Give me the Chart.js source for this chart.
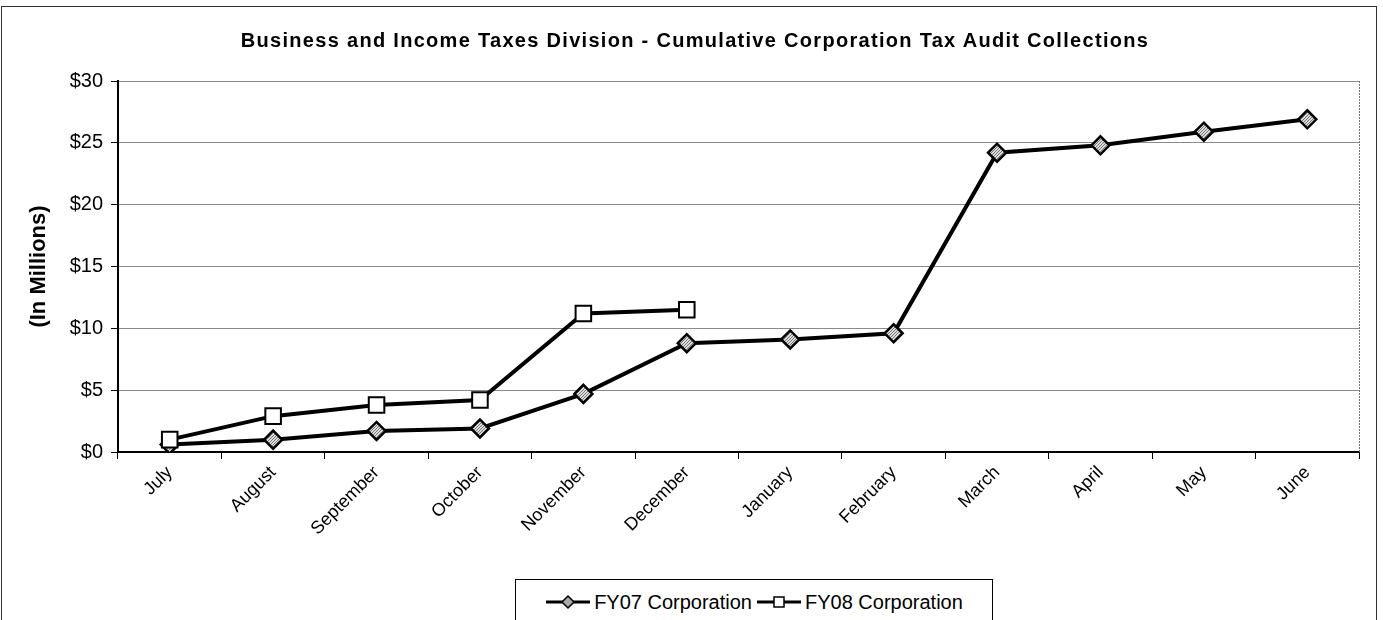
<!DOCTYPE html>
<html>
<head>
<meta charset="utf-8">
<script src="https://cdn.jsdelivr.net/npm/chart.js@4.4.1/dist/chart.umd.min.js"></script>
<style>
  html, body { margin: 0; padding: 0; background: #fff; }
  #wrap { position: relative; width: 1383px; height: 620px; overflow: hidden; font-family: Arial, "Liberation Sans", sans-serif; }
  #frame { position: absolute; left: 1px; top: 6px; width: 1374px; height: 630px; border: 1px solid #333; }
  #chart-box { position: absolute; left: 0; top: 0; width: 1383px; height: 560px; }
  #title { position: absolute; left: 0; top: 28px; width: 1390px; text-align: center; font-size: 20px; line-height: 24px;
           font-weight: bold; letter-spacing: 1.3px; color: #000; white-space: nowrap; }
  #legend { position: absolute; left: 515px; top: 579px; width: 476px; height: 44px; border: 1px solid #000; background: #fff;
            display: flex; align-items: center; justify-content: center; gap: 4px; font-size: 20px; color: #000; }
  .leg-item { display: flex; align-items: center; gap: 3px; }
</style>
</head>
<body>
<div id="wrap">
  <div id="frame"></div>
  <div id="chart-box"><canvas id="taxChart" width="1383" height="560"></canvas></div>
  <div id="title">Business and Income Taxes Division - Cumulative Corporation Tax Audit Collections</div>
  <div id="legend">
    <span class="leg-item">
      <svg width="46" height="16"><line x1="1" y1="8" x2="45" y2="8" stroke="#000" stroke-width="3"/><polygon points="23,2 29,8 23,14 17,8" fill="#aaa" stroke="#000" stroke-width="1.5"/></svg>
      <span>FY07 Corporation</span>
    </span>
    <span class="leg-item">
      <svg width="46" height="16"><line x1="1" y1="8" x2="45" y2="8" stroke="#000" stroke-width="3"/><rect x="18" y="3" width="10" height="10" fill="#fff" stroke="#000" stroke-width="1.5"/></svg>
      <span>FY08 Corporation</span>
    </span>
  </div>
</div>
<script>
// Data
const months = ['July', 'August', 'September', 'October', 'November', 'December',
                'January', 'February', 'March', 'April', 'May', 'June'];
const fy07Corporation = [0.6, 1.0, 1.7, 1.9, 4.7, 8.8, 9.1, 9.6, 24.2, 24.8, 25.9, 26.9];
const fy08Corporation = [1.0, 2.9, 3.8, 4.2, 11.2, 11.5];
const yTicks = [0, 5, 10, 15, 20, 25, 30];

const FONT = 'Arial, "Liberation Sans", sans-serif';

// grey speckle fill for the diamonds
function makeSpeckle() {
    const c = document.createElement('canvas');
    c.width = 3; c.height = 3;
    const g = c.getContext('2d');
    g.fillStyle = '#dcdcdc';
    g.fillRect(0, 0, 3, 3);
    g.fillStyle = '#777';
    g.fillRect(0, 0, 1, 1);
    g.fillRect(2, 1, 1, 1);
    g.fillRect(1, 2, 1, 1);
    return g.createPattern(c, 'repeat');
}

// dotted right edge of the plot area
const plotEdge = {
    id: 'plotEdge',
    beforeDatasetsDraw(chart) {
        const { ctx, chartArea } = chart;
        ctx.save();
        ctx.strokeStyle = '#777';
        ctx.lineWidth = 1;
        ctx.setLineDash([2, 1]);
        ctx.beginPath();
        ctx.moveTo(chartArea.right + 0.5, chartArea.top);
        ctx.lineTo(chartArea.right + 0.5, chartArea.bottom);
        ctx.stroke();
        ctx.restore();
    }
};

function initChart() {
    const ctx = document.getElementById('taxChart').getContext('2d');
    const speckle = makeSpeckle();
    new Chart(ctx, {
        type: 'line',
        data: {
            labels: months,
            datasets: [
                { label: 'FY07 Corporation', data: fy07Corporation, order: 1, borderColor: '#000', borderWidth: 4,
                  pointStyle: 'rectRot', pointRadius: 9, pointBorderWidth: 2.5, pointBackgroundColor: speckle,
                  pointBorderColor: '#000', tension: 0, fill: false },
                { label: 'FY08 Corporation', data: fy08Corporation, order: 0, borderColor: '#000', borderWidth: 4,
                  pointStyle: 'rect', pointRadius: 11, pointBorderWidth: 2, pointBackgroundColor: '#fff',
                  pointBorderColor: '#000', tension: 0, fill: false }
            ]
        },
        options: {
            responsive: false,
            animation: false,
            layout: { padding: { left: 0, right: 24, top: 81, bottom: 0 } },
            plugins: {
                legend: { display: false },
                tooltip: { enabled: false },
                title: { display: false }
            },
            scales: {
                x: {
                    offset: true,
                    grid: { drawOnChartArea: false, drawTicks: true, tickLength: 7, color: '#000', offset: true },
                    border: { color: '#000', width: 2 },
                    ticks: { color: '#000', font: { family: FONT, size: 18 }, minRotation: 45, maxRotation: 45, padding: 3 },
                    afterFit(scale) { scale.height = 108; }
                },
                y: {
                    min: 0, max: 30,
                    afterBuildTicks(scale) { scale.ticks = yTicks.map(v => ({ value: v })); },
                    grid: { color: '#8a8a8a', lineWidth: 1, tickColor: '#000', tickLength: 7 },
                    border: { color: '#000', width: 2 },
                    ticks: { color: '#000', font: { family: FONT, size: 20 }, padding: 8, callback: v => '$' + v },
                    title: { display: true, text: '(In Millions)', color: '#000', font: { family: FONT, size: 22, weight: 'bold' },
                             padding: { top: 26, bottom: 0 } },
                    afterFit(scale) { scale.width = 118; }
                }
            }
        },
        plugins: [plotEdge]
    });
}

window.onload = () => { initChart(); };
</script>
</body>
</html>
